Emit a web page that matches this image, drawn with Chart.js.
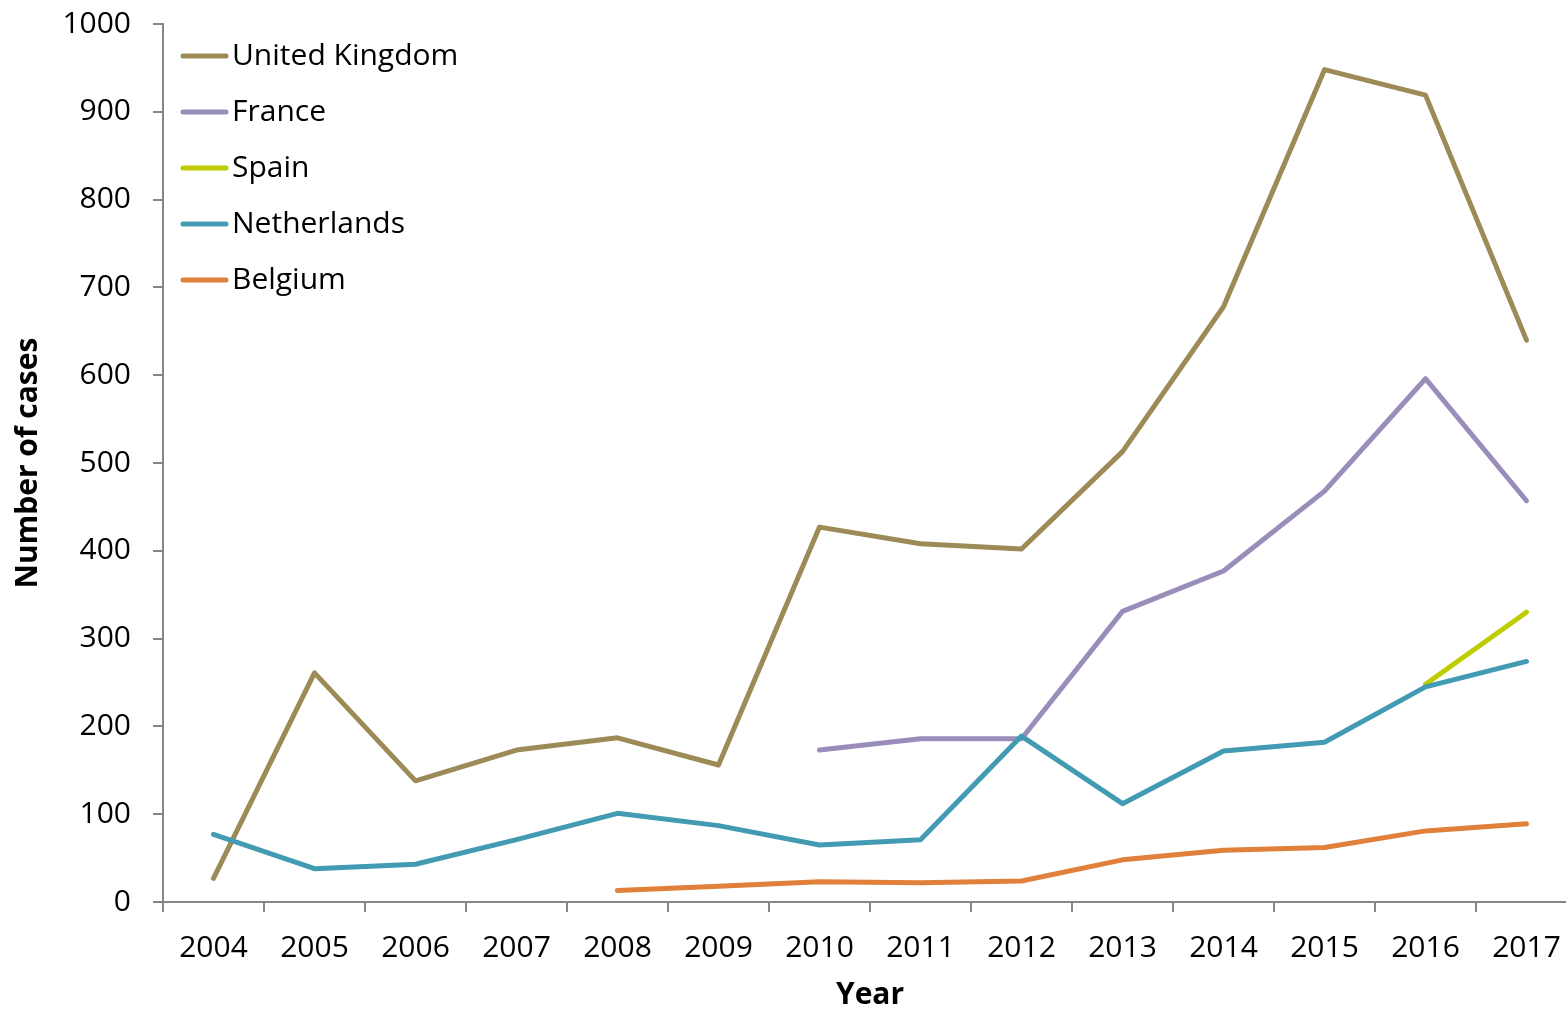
<!DOCTYPE html>
<html>
<head>
<meta charset="utf-8">
<script src="https://cdn.jsdelivr.net/npm/chart.js@4/dist/chart.umd.min.js"></script>
<style>
  html, body { margin: 0; padding: 0; background: #fff; overflow: hidden; }
  #wrap { width: 1580px; height: 1010px; }
</style>
</head>
<body>
<div id="wrap"><canvas id="casesChart" width="1580" height="1010"></canvas></div>
<script>
const years = ['2004', '2005', '2006', '2007', '2008', '2009', '2010', '2011', '2012', '2013', '2014', '2015', '2016', '2017'];

const unitedKingdom = [27, 261, 138, 173, 187, 156, 427, 408, 402, 513, 678, 948, 919, 640];
const france = [null, null, null, null, null, null, 173, 186, 186, 331, 377, 468, 596, 457];
const spain = [null, null, null, null, null, null, null, null, null, null, null, null, 248, 330];
const netherlands = [77, 38, 43, 71, 101, 87, 65, 71, 189, 112, 172, 182, 245, 274];
const belgium = [null, null, null, null, 13, 18, 23, 22, 24, 48, 59, 62, 81, 89];

const yTicks = [0, 100, 200, 300, 400, 500, 600, 700, 800, 900, 1000];

const FONT = '"Open Sans", "Noto Sans", sans-serif';
const FONT_SIZE = 30;
const axisGrey = '#868686';

// legend drawn inside the plot, top-left, one row per series
const insideLegend = {
    id: 'insideLegend',
    afterDraw(chart) {
        const ctx = chart.ctx;
        const area = chart.chartArea;
        ctx.save();
        ctx.font = FONT_SIZE + 'px ' + FONT;
        ctx.textBaseline = 'middle';
        chart.data.datasets.forEach((ds, i) => {
            const y = area.top + 32 + i * 56;
            ctx.strokeStyle = ds.borderColor;
            ctx.lineWidth = 5;
            ctx.lineCap = 'round';
            ctx.beginPath();
            ctx.moveTo(area.left + 20, y);
            ctx.lineTo(area.left + 63, y);
            ctx.stroke();
            ctx.fillStyle = '#000';
            ctx.fillText(ds.label, area.left + 69, y);
        });
        ctx.restore();
    }
};

const makeSeries = (label, values, color, order) => ({
    label: label,
    data: values,
    borderColor: color,
    backgroundColor: color,
    borderWidth: 5,
    borderCapStyle: 'round',
    borderJoinStyle: 'round',
    pointRadius: 0,
    spanGaps: false,
    tension: 0,
    order: order
});

const ctx = document.getElementById('casesChart').getContext('2d');
new Chart(ctx, {
    type: 'line',
    data: {
        labels: years,
        datasets: [
            makeSeries('United Kingdom', unitedKingdom, '#9C8B56', 5),
            makeSeries('France', france, '#9A8DB9', 4),
            makeSeries('Spain', spain, '#BFCC00', 3),
            makeSeries('Netherlands', netherlands, '#429BB3', 2),
            makeSeries('Belgium', belgium, '#E0803A', 1)
        ]
    },
    options: {
        responsive: false,
        animation: false,
        layout: { padding: { top: 24, right: 3, bottom: 0, left: 0 } },
        plugins: {
            legend: { display: false },
            tooltip: { enabled: false }
        },
        scales: {
            x: {
                offset: true,
                grid: {
                    offset: true,
                    drawOnChartArea: false,
                    color: axisGrey,
                    lineWidth: 2,
                    tickLength: 10
                },
                border: { color: axisGrey, width: 2 },
                ticks: {
                    color: '#000',
                    font: { family: FONT, size: FONT_SIZE },
                    padding: 18,
                    maxRotation: 0,
                    autoSkip: false
                },
                title: {
                    display: true,
                    text: 'Year',
                    color: '#000',
                    font: { family: FONT, size: FONT_SIZE, weight: 'bold', lineHeight: 1 },
                    padding: { top: 0, bottom: 0 }
                },
                afterFit(scale) {
                    scale.height = 108;
                    scale.paddingLeft = 0;
                    scale.paddingRight = 0;
                }
            },
            y: {
                min: 0,
                max: 1000,
                afterBuildTicks(scale) {
                    scale.ticks = yTicks.map(v => ({ value: v }));
                },
                grid: {
                    drawOnChartArea: false,
                    color: axisGrey,
                    lineWidth: 2,
                    tickLength: 10
                },
                border: { color: axisGrey, width: 2 },
                ticks: {
                    color: '#000',
                    font: { family: FONT, size: FONT_SIZE },
                    padding: 22,
                    callback: (v) => String(v)
                },
                title: {
                    display: true,
                    text: 'Number of cases',
                    color: '#000',
                    font: { family: FONT, size: FONT_SIZE, weight: 'bold' },
                    padding: { top: 10, bottom: 0 }
                },
                afterFit(scale) {
                    scale.width = 163;
                    scale.paddingTop = 0;
                    scale.paddingBottom = 0;
                }
            }
        }
    },
    plugins: [insideLegend]
});
</script>
</body>
</html>
